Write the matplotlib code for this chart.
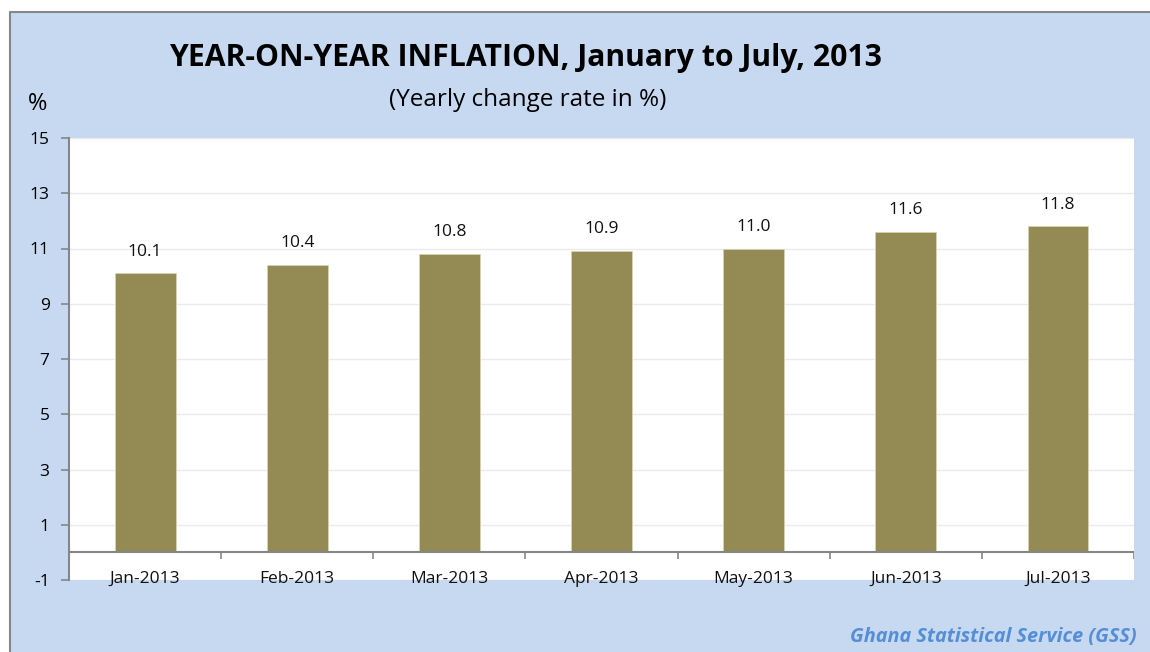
import matplotlib
matplotlib.use("Agg")
from matplotlib import pyplot as plt
from matplotlib.patches import Rectangle
from matplotlib.lines import Line2D

months = ["Jan-2013", "Feb-2013", "Mar-2013", "Apr-2013", "May-2013", "Jun-2013", "Jul-2013"]
inflation = [10.1, 10.4, 10.8, 10.9, 11.0, 11.6, 11.8]
yticks = [-1, 1, 3, 5, 7, 9, 11, 13, 15]

bar_color = "#948A54"
bg_color = "#C6D9F1"
axis_gray = "#868686"

plt.rcParams["font.family"] = ["Open Sans", "DejaVu Sans"]

fig = plt.figure(figsize=(11.5, 6.52), dpi=100, facecolor="white")
# chart area; its border only shows on the left and top
x0, y1 = 10 / 1150, 1 - 12 / 652
fig.patches.append(Rectangle((x0, -0.05), 1.0, y1 + 0.05, transform=fig.transFigure,
                             facecolor=bg_color, edgecolor="none", zorder=-2))
fig.lines.append(Line2D([x0, x0, 1.05], [-0.05, y1, y1], transform=fig.transFigure,
                        color=axis_gray, linewidth=1.5, zorder=-1))

ax = fig.add_axes([69 / 1150, 72 / 652, (1134 - 69) / 1150, (580 - 138) / 652])
ax.set_facecolor("white")
x = list(range(len(months)))
ax.bar(x, inflation, width=0.4, color=bar_color, edgecolor="#D8D2B0", linewidth=0.6, zorder=3)
for xi, v in zip(x, inflation):
    ax.text(xi, v + 0.5, f"{v:.1f}", ha="center", va="bottom", fontsize=12.5, color="#111111")

ax.set_xlim(-0.5, len(months) - 0.5)
ax.set_ylim(-1, 15)
ax.set_yticks(yticks)
ax.set_yticklabels([str(t) for t in yticks], fontsize=12.5)
ax.yaxis.grid(True, color="#EBEBEB", linewidth=1, zorder=0)
ax.set_axisbelow(True)
ax.set_xticks([])
for s in ["top", "right", "bottom"]:
    ax.spines[s].set_visible(False)
ax.spines["left"].set_color(axis_gray)
ax.spines["left"].set_linewidth(1.5)
ax.tick_params(axis="y", color=axis_gray, length=6, width=1.2, pad=8)

# category axis at zero with boundary ticks
ax.axhline(0, color=axis_gray, linewidth=1.5, zorder=4)
bounds = [i + 0.5 for i in x]
ax.vlines(bounds, -0.25, 0, color=axis_gray, linewidth=1.2, zorder=4)
for xi, m in zip(x, months):
    ax.text(xi, -0.97, m, ha="center", va="center", fontsize=12.5, color="#111111")

fig.text(525 / 1150, 1 - 58 / 652, "YEAR-ON-YEAR INFLATION, January to July, 2013",
         ha="center", va="center", fontsize=21.7, fontweight="bold", color="black")
fig.text(528 / 1150, 1 - 100 / 652, "(Yearly change rate in %)",
         ha="center", va="center", fontsize=17.5, color="black")
fig.text(38 / 1150, 1 - 104 / 652, "%", ha="center", va="center", fontsize=17, color="black")
fig.text(1137 / 1150, 1 - 637 / 652, "Ghana Statistical Service (GSS)", ha="right", va="center",
         fontsize=14.3, fontstyle="italic", fontweight="bold", color="#558ED5")

fig.savefig("out.png", dpi=100, facecolor=fig.get_facecolor())
